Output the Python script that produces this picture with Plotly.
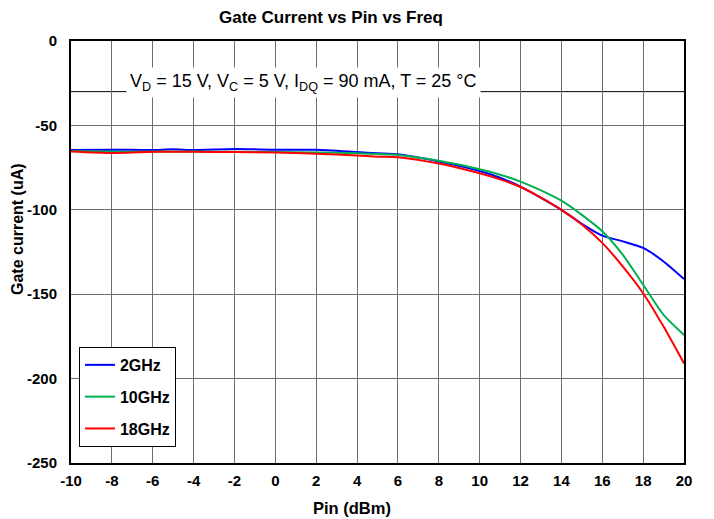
import plotly.graph_objects as go

pin = [-10, -8, -6, -5, -4, -2, 0, 2, 4, 5, 6, 8, 10, 11, 12, 13, 14, 15, 16, 17, 18, 19, 20]
i_2ghz = [-64.6, -64.4, -64.6, -64.2, -64.6, -64.0, -64.4, -64.4, -65.8, -66.5, -67.1, -71.4, -77.0, -81.0, -86.3, -92.9, -100.0, -108.3, -115.3, -118.7, -122.6, -130.6, -141.0]
i_10ghz = [-65.2, -65.6, -65.5, -65.4, -65.5, -65.6, -65.8, -66.0, -66.5, -67.0, -67.5, -71.0, -76.0, -79.2, -83.3, -88.5, -94.6, -103.0, -112.7, -126.6, -144.4, -162.3, -174.2]
i_18ghz = [-65.4, -66.3, -65.6, -65.6, -65.6, -65.8, -66.0, -66.8, -67.8, -68.5, -68.8, -72.6, -78.4, -82.0, -86.5, -92.8, -100.0, -108.7, -119.6, -133.5, -149.4, -169.2, -191.0]

series = [("2GHz", i_2ghz, "#0000ff"), ("10GHz", i_10ghz, "#00b050"), ("18GHz", i_18ghz, "#ff0000")]

x_ticks = list(range(-10, 21, 2))
y_ticks = [0, -50, -100, -150, -200, -250]

F = "Liberation Sans, Arial, sans-serif"

W, H = 706, 511
L, T, R, B = 63, 33, 30, 56
PW, PH = W - L - R, H - T - B

fig = go.Figure()
for name, vals, col in series:
    fig.add_trace(go.Scatter(x=pin, y=vals, name="<b>" + name + "</b>", mode="lines", legendgroup=name,
                             line=dict(color=col, width=2, shape="spline", smoothing=0.6)))

fig.add_shape(type="line", xref="x", yref="y", x0=-10, x1=20, y0=-30, y1=-30,
              line=dict(color="#000000", width=1), layer="below")

fig.add_annotation(x=1.4, y=-24.5, xref="x", yref="y", showarrow=False,
                   text="V<sub>D</sub> = 15 V, V<sub>C</sub> = 5 V, I<sub>DQ</sub> = 90 mA, T = 25 °C",
                   font=dict(family=F, size=18, color="#000"),
                   bgcolor="#ffffff", borderpad=3)

# axis titles (positioned like the reference)
fig.add_annotation(xref="paper", yref="paper", x=(344 - L) / PW, y=1 - (500 - T) / PH,
                   xanchor="center", yanchor="middle", showarrow=False,
                   text="<b>Pin (dBm)</b>", font=dict(family=F, size=16.5, color="#000"))
fig.add_annotation(xref="paper", yref="paper", x=(10 - L) / PW, y=1 - (221 - T) / PH,
                   xanchor="center", yanchor="middle", showarrow=False, textangle=-90,
                   text="<b>Gate current (uA)</b>", font=dict(family=F, size=16, color="#000"))

fig.update_layout(
    width=W, height=H,
    margin=dict(l=L, r=R, t=T, b=B),
    paper_bgcolor="#ffffff", plot_bgcolor="#ffffff",
    title=dict(text="<b>Gate Current vs Pin vs Freq</b>", x=0.4575, xanchor="center",
               y=0.983, yanchor="middle",
               font=dict(family=F, size=17, color="#000")),
    font=dict(family=F, color="#000"),
    xaxis=dict(range=[-10, 20], tickvals=x_ticks, ticktext=["<b>%d</b>" % v for v in x_ticks],
               showgrid=True, gridcolor="#6e6e6e", gridwidth=1,
               showline=True, linecolor="#000", linewidth=2, mirror=True,
               zeroline=False, ticks="outside", ticklen=3, tickcolor="rgba(0,0,0,0)",
               tickfont=dict(size=15, family=F)),
    yaxis=dict(range=[-250, 0], tickvals=y_ticks, ticktext=["<b>%d</b>" % v for v in y_ticks],
               showgrid=True, gridcolor="#6e6e6e", gridwidth=1,
               showline=True, linecolor="#000", linewidth=2, mirror=True,
               zeroline=False, ticks="outside", ticklen=9, tickcolor="rgba(0,0,0,0)",
               tickfont=dict(size=15, family=F)),
    legend=dict(x=0.013, y=0.275, xanchor="left", yanchor="top",
                bgcolor="#ffffff", bordercolor="#000", borderwidth=1,
                font=dict(size=16, family=F, color="#000"),
                itemwidth=30, traceorder="grouped", tracegroupgap=8),
    showlegend=True,
)

fig.write_html("out.html")
